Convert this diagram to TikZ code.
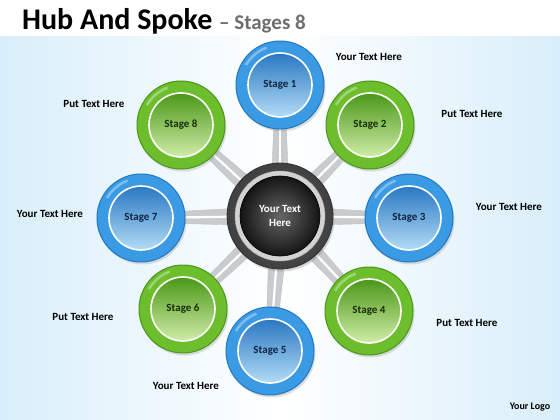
\documentclass[tikz,border=0pt]{standalone}
\usepackage{fontspec}
\setmainfont{Carlito}
\usetikzlibrary{calc,shadows}
\definecolor{bgblue}{HTML}{D8EEFA}
\definecolor{bOut}{HTML}{3A9AE4}
\definecolor{bEdge}{HTML}{2577BE}
\definecolor{bTop}{HTML}{2A78C2}
\definecolor{bBot}{HTML}{B3DCF7}
\definecolor{bTxt}{HTML}{0F2440}
\definecolor{gOut}{HTML}{6DBE2C}
\definecolor{gEdge}{HTML}{4C961B}
\definecolor{gTop}{HTML}{4A9818}
\definecolor{gBot}{HTML}{D0ECA8}
\definecolor{gTxt}{HTML}{1B2C08}
\definecolor{titlegray}{HTML}{6E6E6E}
\definecolor{spokegray}{HTML}{C9CCCF}
\tikzset{
  lbl/.style={font=\bfseries\fontsize{11}{13}\selectfont, text=black},
  ringnode/.style={circle, minimum size=88pt, inner sep=0pt, line width=1pt,
    drop shadow={opacity=0.25, shadow xshift=1.5pt, shadow yshift=-2.5pt}},
  innernode/.style={circle, minimum size=64pt, inner sep=0pt, draw=white, line width=1.6pt,
    font=\bfseries\fontsize{11}{13}\selectfont},
  spoke/.style={fill=spokegray, draw=gray!50, line width=0.4pt}
}
\begin{document}
\begin{tikzpicture}[x=1pt,y=-1pt]
\useasboundingbox (0,0) rectangle (560,420);
% background
\fill[white] (0,0) rectangle (560,37);
\shade[left color=bgblue, right color=bgblue, middle color=white] (0,37) rectangle (560,420);
% title
\node[anchor=base west, inner sep=0pt] (title) at (22,30)
  {\bfseries\fontsize{30}{34}\selectfont Hub And Spoke {\color{titlegray}\fontsize{21}{24}\selectfont -- Stages 8}};
% positions
\coordinate (hubc) at (280,216);
\foreach \n/\x/\y in {1/280/85, 2/370/125, 3/409/218, 4/369/311, 5/270/351, 6/183/309, 7/141/218, 8/181/125}{
  \coordinate (c\n) at (\x,\y);
}
% spokes
\foreach \n in {1,...,8}{
  \filldraw[spoke] ($(hubc)!10pt!90:(c\n)$) -- ($(c\n)!4.5pt!-90:(hubc)$) -- ($(c\n)!4.5pt!90:(hubc)$) -- ($(hubc)!10pt!-90:(c\n)$) -- cycle;
  \draw[white, line width=2.2pt, line cap=round] ($(hubc)!40pt!(c\n)$) -- ($(c\n)!40pt!(hubc)$);
}
% hub
\node[circle, minimum size=106pt, inner sep=0pt, inner color=gray!75!black, outer color=black!75,
  draw=black!80, line width=0.8pt, drop shadow={opacity=0.3, shadow xshift=1.5pt, shadow yshift=-2.5pt}] (hub) at (hubc) {};
\node[circle, minimum size=90pt, inner sep=0pt, fill=gray!35, draw=gray!60] (hubring) at (hubc) {};
\node[circle, minimum size=80pt, inner sep=0pt, inner color=gray!80!black, outer color=black!92,
  draw=black, line width=0.6pt, text=white, font=\bfseries\fontsize{11}{14}\selectfont, align=center] (hubin) at (hubc) {Your Text\\Here};
% stages
\foreach \n/\ro/\re/\it/\ib/\tx in {1/bOut/bEdge/bTop/bBot/bTxt, 2/gOut/gEdge/gTop/gBot/gTxt,
   3/bOut/bEdge/bTop/bBot/bTxt, 4/gOut/gEdge/gTop/gBot/gTxt, 5/bOut/bEdge/bTop/bBot/bTxt,
   6/gOut/gEdge/gTop/gBot/gTxt, 7/bOut/bEdge/bTop/bBot/bTxt, 8/gOut/gEdge/gTop/gBot/gTxt}{
  \node[ringnode, fill=\ro, draw=\re] (s\n) at (c\n) {};
  \draw[white, opacity=0.35, line width=2.5pt] ($(c\n)+(-34,-20)$) arc[start angle=150, end angle=110, radius=39.5pt];
  \node[innernode, top color=\it, bottom color=\ib, text=\tx] (i\n) at (c\n) {Stage \n};
}
% labels
\node[lbl] (t1) at (369,57) {Your Text Here};
\node[lbl] (t2) at (472,114) {Put Text Here};
\node[lbl] (t3) at (509,207) {Your Text Here};
\node[lbl] (t4) at (467,323) {Put Text Here};
\node[lbl] (t5) at (186,386) {Your Text Here};
\node[lbl] (t6) at (83,317) {Put Text Here};
\node[lbl] (t7) at (50,214) {Your Text Here};
\node[lbl] (t8) at (94,104) {Put Text Here};
\node[lbl, font=\bfseries\fontsize{10}{12}\selectfont] (logo) at (530,407) {Your Logo};
\end{tikzpicture}
\end{document}
